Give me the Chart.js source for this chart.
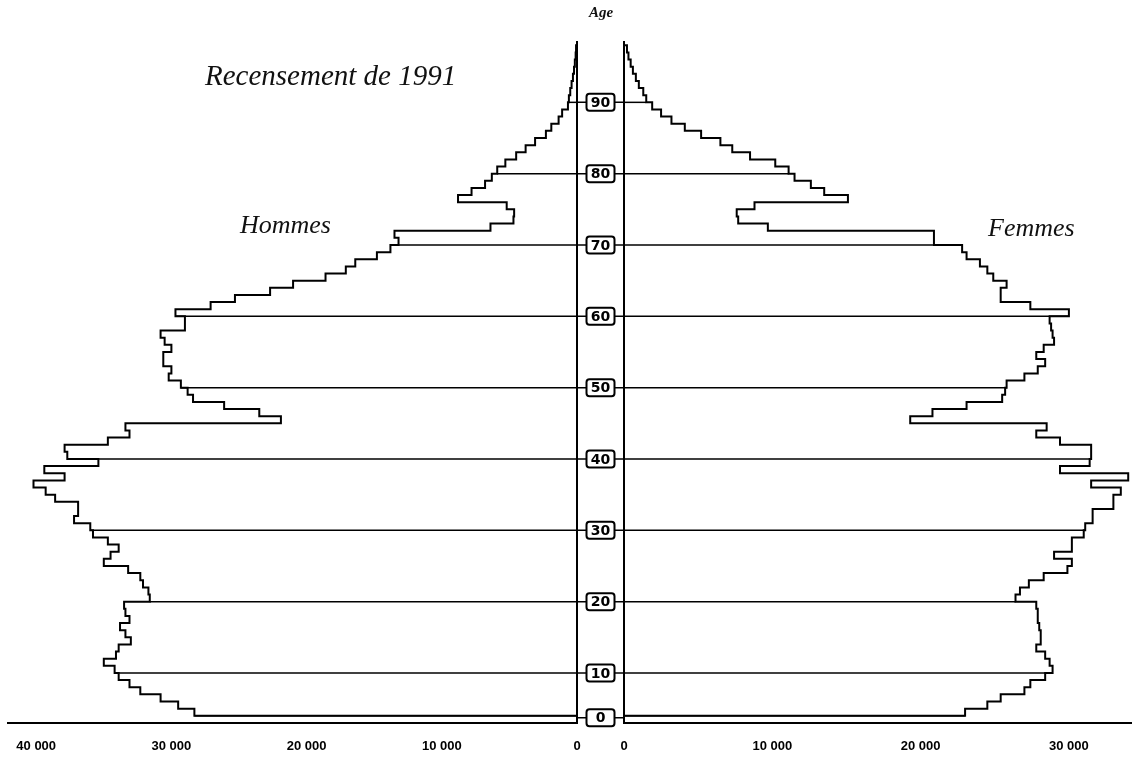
<!DOCTYPE html>
<html><head><meta charset="utf-8">
<script src="https://cdn.jsdelivr.net/npm/chart.js@4.4.1/dist/chart.umd.min.js"></script>
<style>
html,body{margin:0;padding:0;background:#fff;}
#wrap{position:relative;width:1132px;height:780px;overflow:hidden;background:#fff;}
canvas{position:absolute;left:0;top:0;}
.lbl{position:absolute;white-space:nowrap;font-family:"Liberation Serif","Times New Roman",serif;font-style:italic;color:#111;line-height:1;}
</style></head><body>
<div id="wrap">
<canvas id="men" width="1132" height="780"></canvas>
<canvas id="women" width="1132" height="780"></canvas>
<div class="lbl" style="left:205px;top:61px;font-size:29px;">Recensement de 1991</div>
<div class="lbl" style="left:240px;top:212px;font-size:26px;">Hommes</div>
<div class="lbl" style="left:988px;top:215px;font-size:26px;">Femmes</div>
<div class="lbl" style="left:589px;top:5px;font-size:15px;font-weight:bold;">Age</div>
</div>
<script>
// Lowest age drawn at the base of the pyramid (the "0" box sits on that base, as in the source)
const baseAge = 4;
// Population by single year of age, from baseAge (4) up to 97
const hommes = [
 28300,29500,30800,32300,33100,33900,
 34200,35000,34100,33900,33000,33400,33800,33100,33400,33500,
 31600,31700,32100,32300,33200,35000,34500,33900,34700,35800,
 36000,37200,36900,36900,38600,39300,40200,37900,39400,35400,
 37700,37900,34700,33100,33400,21900,23500,26100,28400,28800,
 29300,30200,30000,30600,30600,30000,30500,30800,29000,29000,
 29700,27100,25300,22700,21000,18600,17100,16400,14800,13800,
 13200,13500,6400,4700,4650,5200,8800,7800,6800,6300,
 5900,5300,4500,3800,3100,2300,1900,1360,1100,670,
 600,500,400,300,220,160,100,70
];
const femmes = [
 23000,24500,25400,27000,27400,28400,
 28900,28700,28400,27800,28100,28100,28000,27900,27900,27800,
 26400,26700,27300,28300,29900,30200,29000,30200,30200,31000,
 31100,31600,31600,33000,33000,33500,31500,34000,29400,31400,
 31500,31500,29400,27800,28500,19300,20800,23100,25500,25700,
 25800,27000,27900,28400,27800,28300,29000,28900,28800,28700,
 30000,27400,25400,25400,25800,24900,24500,24000,23100,22800,
 20900,20900,9700,7700,7600,8800,15100,13500,12600,11500,
 11100,10200,8500,7300,6500,5200,4100,3200,2500,1900,
 1500,1300,1000,800,600,450,300,200
];
const ageTicks = [0,10,20,30,40,50,60,70,80,90];
const hommesTicks = [0,10000,20000,30000,40000];
const femmesTicks = [0,10000,20000,30000];

const Y_MIN = 3.0, Y_MAX = 98.6;
const X_MAX_H = 42086, X_MAX_F = 34255;

function outline(vals){
  const pts=[{x:0,y:baseAge}];
  vals.forEach((v,i)=>pts.push({x:v,y:baseAge+i}));
  pts.push({x:0,y:baseAge+vals.length});
  return pts;
}
function tickAge(a){ return Math.max(a, baseAge); }
function decadeSets(vals){
  return ageTicks.map(a=>{
    const y=tickAge(a);
    return {data:[{x:0,y:y},{x:vals[y-baseAge],y:y}],
      showLine:true,borderColor:'#000',borderWidth:1.5,pointRadius:0,tension:0};
  });
}
function fmt(v){ return v===0 ? '0' : (v/1000)+' 000'; }

function makeOptions(reverse, xmax, ticks, padding){
  return {
    responsive:false, animation:false,
    plugins:{legend:{display:false},tooltip:{enabled:false},title:{display:false}},
    layout:{padding:padding},
    scales:{
      x:{type:'linear',reverse:reverse,min:0,max:xmax,
        afterBuildTicks:s=>{s.ticks=ticks.map(v=>({value:v}));},
        ticks:{callback:fmt,autoSkip:false,maxRotation:0,padding:16,color:'#000',
          font:{family:'"Liberation Sans", Arial, sans-serif',weight:'bold',size:13}},
        grid:{display:false,drawTicks:false},
        border:{display:true,color:'#000',width:2}
      },
      y:{type:'linear',display:false,min:Y_MIN,max:Y_MAX}
    }
  };
}

const menChart = new Chart(document.getElementById('men'),{
  type:'scatter',
  data:{datasets:[{data:outline(hommes),showLine:true,stepped:'after',borderColor:'#000',borderWidth:2,pointRadius:0}].concat(decadeSets(hommes))},
  options:makeOptions(true,X_MAX_H,hommesTicks,{left:8,right:555,top:41,bottom:9.5})
});

function roundRect(ctx,x,y,w,h,r){
  ctx.beginPath();
  ctx.moveTo(x+r,y);ctx.lineTo(x+w-r,y);ctx.quadraticCurveTo(x+w,y,x+w,y+r);
  ctx.lineTo(x+w,y+h-r);ctx.quadraticCurveTo(x+w,y+h,x+w-r,y+h);
  ctx.lineTo(x+r,y+h);ctx.quadraticCurveTo(x,y+h,x,y+h-r);
  ctx.lineTo(x,y+r);ctx.quadraticCurveTo(x,y,x+r,y);ctx.closePath();
}
const centerPlugin={
  id:'center',
  afterDraw(chart){
    const ctx=chart.ctx, ys=chart.scales.y, ca=chart.chartArea;
    const xl=menChart.scales.x.getPixelForValue(0);
    const xr=chart.scales.x.getPixelForValue(0);
    const xc=(xl+xr)/2;
    ctx.save();
    ctx.strokeStyle='#000';ctx.lineWidth=2;
    ctx.beginPath();
    ctx.moveTo(xl,ca.top);ctx.lineTo(xl,ca.bottom);
    ctx.moveTo(xr,ca.top);ctx.lineTo(xr,ca.bottom);
    ctx.stroke();
    ageTicks.forEach(a=>{
      const y=ys.getPixelForValue(tickAge(a)) + (a<baseAge ? 2 : 0);
      ctx.lineWidth=1.5;ctx.beginPath();ctx.moveTo(xl,y);ctx.lineTo(xr,y);ctx.stroke();
      ctx.fillStyle='#fff';ctx.lineWidth=2;
      roundRect(ctx,xc-14,y-8.5,28,17,3);ctx.fill();ctx.stroke();
      ctx.fillStyle='#000';ctx.font='bold 14px "DejaVu Sans", sans-serif';
      ctx.textAlign='center';ctx.textBaseline='middle';
      ctx.fillText(String(a),xc,y+1);
    });
    ctx.restore();
  }
};

const womenChart = new Chart(document.getElementById('women'),{
  type:'scatter',
  data:{datasets:[{data:outline(femmes),showLine:true,stepped:'after',borderColor:'#000',borderWidth:2,pointRadius:0}].concat(decadeSets(femmes))},
  options:makeOptions(false,X_MAX_F,femmesTicks,{left:624,right:0,top:41,bottom:9.5}),
  plugins:[centerPlugin]
});
</script>
</body></html>
